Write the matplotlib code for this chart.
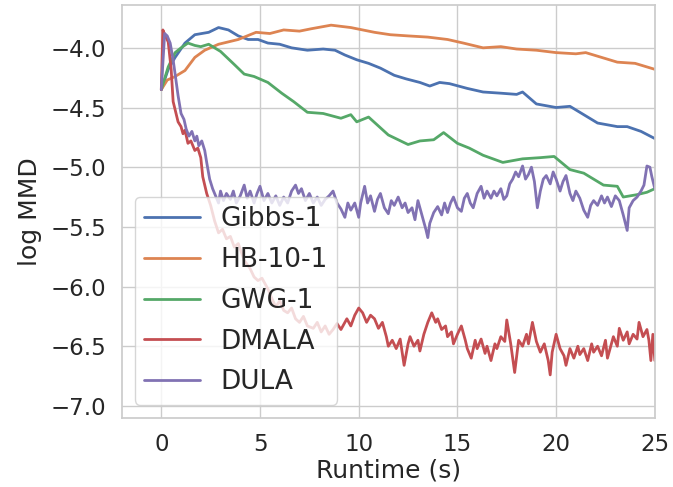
import numpy as np
import matplotlib
matplotlib.use("Agg")
import matplotlib.pyplot as plt
import seaborn as sns

sns.set_theme(style="whitegrid")

# Gibbs-1
t_gibbs = [0, 0.35, 0.7, 1.2, 1.7, 2.4, 2.9, 3.4, 3.9, 4.4, 4.9, 5.4, 6.0, 6.6, 7.4, 8.2,
           8.8, 9.3, 9.9, 10.5, 11.1, 11.8, 12.4, 13.1, 13.6, 14.1, 14.6, 15.5, 16.3, 17.2,
           18.0, 18.3, 19.0, 20.0, 20.7, 21.4, 22.1, 23.1, 23.6, 24.3, 25.0]
v_gibbs = [-4.35, -4.18, -4.08, -3.96, -3.89, -3.87, -3.83, -3.85, -3.90, -3.93, -3.93,
           -3.96, -3.97, -4.00, -4.02, -4.01, -4.02, -4.06, -4.10, -4.13, -4.17, -4.23,
           -4.26, -4.29, -4.32, -4.29, -4.30, -4.34, -4.37, -4.38, -4.39, -4.37, -4.47,
           -4.50, -4.49, -4.56, -4.63, -4.66, -4.66, -4.70, -4.76]

# HB-10-1
t_hb = [0, 0.3, 0.7, 1.2, 1.7, 2.2, 2.9, 3.9, 4.8, 5.5, 6.2, 7.0, 7.6, 8.6, 9.6, 10.8,
        11.6, 12.5, 13.5, 14.5, 15.3, 16.3, 17.2, 18.0, 19.0, 20.0, 21.0, 21.5, 22.3,
        23.1, 24.0, 25.0]
v_hb = [-4.35, -4.27, -4.24, -4.19, -4.08, -4.02, -3.97, -3.93, -3.87, -3.88, -3.85,
        -3.86, -3.84, -3.81, -3.83, -3.87, -3.89, -3.90, -3.91, -3.93, -3.96, -4.00,
        -3.99, -4.01, -4.02, -4.04, -4.05, -4.04, -4.08, -4.12, -4.13, -4.18]

# GWG-1
t_gwg = [0, 0.35, 0.7, 1.0, 1.35, 1.7, 2.0, 2.4, 3.0, 3.7, 4.2, 4.7, 5.4, 6.1, 6.7, 7.4,
         8.2, 9.1, 9.6, 9.9, 10.5, 11.1, 11.5, 12.5, 13.1, 13.8, 14.3, 15.0, 15.6, 16.3,
         17.3, 18.3, 19.2, 19.9, 20.7, 21.4, 22.4, 23.1, 23.4, 24.1, 24.6, 25.0]
v_gwg = [-4.35, -4.16, -4.04, -4.00, -3.96, -3.98, -3.99, -3.97, -4.03, -4.14, -4.22,
         -4.24, -4.29, -4.38, -4.45, -4.54, -4.55, -4.59, -4.56, -4.62, -4.58, -4.67,
         -4.73, -4.81, -4.78, -4.77, -4.71, -4.80, -4.84, -4.90, -4.96, -4.93, -4.92,
         -4.91, -5.02, -5.05, -5.15, -5.16, -5.25, -5.23, -5.21, -5.18]

# DMALA
t_dmala = [0, 0.08, 0.2, 0.35, 0.5, 0.6, 0.75, 0.85, 1.0, 1.1, 1.2, 1.35, 1.5, 1.7, 1.85,
           2.0, 2.1, 2.3, 2.5, 2.7, 2.9, 3.1, 3.3, 3.5, 3.7, 3.9, 4.2, 4.5, 4.7, 4.9, 5.1,
           5.4, 5.6, 5.8, 6.0, 6.2, 6.4, 6.6, 6.8, 7.0, 7.2, 7.4, 7.7, 7.9, 8.1, 8.3, 8.5,
           8.7, 8.9, 9.1, 9.4, 9.6, 9.8, 10.0, 10.2, 10.4, 10.6, 10.8, 11.0, 11.2, 11.4,
           11.5, 11.7, 11.9, 12.1, 12.3, 12.5, 12.6, 12.8, 13.0, 13.1, 13.3, 13.5, 13.7,
           13.9, 14.0, 14.2, 14.4, 14.5, 14.7, 14.8, 15.0, 15.2, 15.4, 15.5, 15.7, 15.9,
           16.0, 16.2, 16.4, 16.5, 16.7, 16.9, 17.0, 17.2, 17.4, 17.5, 17.7, 17.9, 18.1,
           18.3, 18.5, 18.6, 18.8, 19.0, 19.2, 19.4, 19.6, 19.7, 19.8, 20.0, 20.2, 20.4,
           20.5, 20.7, 20.9, 21.1, 21.2, 21.4, 21.6, 21.8, 21.9, 22.1, 22.3, 22.5, 22.6,
           22.8, 22.9, 23.1, 23.2, 23.4, 23.6, 23.7, 23.9, 24.1, 24.2, 24.4, 24.6, 24.7,
           24.8, 24.9, 25.0]
v_dmala = [-4.35, -3.85, -3.90, -3.95, -4.18, -4.45, -4.55, -4.62, -4.66, -4.72, -4.69,
           -4.80, -4.78, -4.86, -4.84, -4.92, -5.08, -5.22, -5.32, -5.45, -5.55, -5.52,
           -5.60, -5.58, -5.67, -5.64, -5.78, -5.85, -5.92, -5.95, -5.93, -6.02, -6.10,
           -6.17, -6.12, -6.20, -6.22, -6.18, -6.27, -6.30, -6.25, -6.33, -6.35, -6.30,
           -6.38, -6.33, -6.40, -6.36, -6.31, -6.36, -6.27, -6.33, -6.24, -6.18, -6.22,
           -6.30, -6.24, -6.27, -6.35, -6.30, -6.42, -6.50, -6.45, -6.52, -6.44, -6.66,
           -6.48, -6.42, -6.50, -6.45, -6.54, -6.40, -6.30, -6.22, -6.30, -6.27, -6.36,
           -6.33, -6.42, -6.38, -6.48, -6.40, -6.33, -6.45, -6.52, -6.60, -6.45, -6.52,
           -6.44, -6.56, -6.50, -6.62, -6.48, -6.52, -6.42, -6.46, -6.28, -6.48, -6.72,
           -6.45, -6.50, -6.40, -6.48, -6.30, -6.46, -6.55, -6.48, -6.62, -6.74, -6.55,
           -6.40, -6.52, -6.58, -6.66, -6.52, -6.60, -6.50, -6.57, -6.52, -6.62, -6.48,
           -6.55, -6.50, -6.58, -6.45, -6.60, -6.48, -6.42, -6.50, -6.35, -6.45, -6.38,
           -6.48, -6.40, -6.44, -6.30, -6.42, -6.36, -6.45, -6.62, -6.40, -6.62]

# DULA
t_dula = [0, 0.17, 0.3, 0.45, 0.6, 0.7, 0.85, 1.0, 1.15, 1.26, 1.4, 1.55, 1.7, 1.8, 1.9,
          2.05, 2.2, 2.3, 2.45, 2.6, 2.75, 2.9, 3.0, 3.15, 3.3, 3.5, 3.65, 3.8, 4.0, 4.2,
          4.35, 4.5, 4.7, 4.85, 5.0, 5.2, 5.4, 5.6, 5.8, 6.0, 6.2, 6.4, 6.6, 6.8, 6.95,
          7.1, 7.3, 7.5, 7.7, 7.9, 8.1, 8.3, 8.5, 8.7, 8.9, 9.1, 9.3, 9.45, 9.6, 9.8,
          10.0, 10.1, 10.3, 10.45, 10.6, 10.8, 10.95, 11.1, 11.3, 11.5, 11.65, 11.8, 12.0,
          12.2, 12.35, 12.5, 12.7, 12.85, 13.0, 13.2, 13.4, 13.5, 13.6, 13.8, 14.0, 14.2,
          14.35, 14.5, 14.65, 14.8, 15.0, 15.2, 15.35, 15.5, 15.65, 15.8, 16.0, 16.2,
          16.35, 16.5, 16.7, 16.85, 17.0, 17.2, 17.35, 17.5, 17.65, 17.8, 17.95, 18.1,
          18.3, 18.45, 18.6, 18.75, 18.9, 19.05, 19.2, 19.35, 19.5, 19.7, 19.85, 20.0,
          20.2, 20.35, 20.5, 20.7, 20.85, 21.0, 21.2, 21.4, 21.6, 21.75, 21.9, 22.1, 22.3,
          22.45, 22.6, 22.8, 23.0, 23.2, 23.4, 23.6, 23.7, 23.9, 24.1, 24.3, 24.45, 24.6,
          24.75, 24.85, 25.0]
v_dula = [-4.35, -3.88, -3.90, -3.96, -4.10, -4.22, -4.40, -4.55, -4.60, -4.68, -4.74,
          -4.70, -4.78, -4.74, -4.82, -4.78, -4.86, -4.96, -5.10, -5.18, -5.24, -5.30,
          -5.20, -5.28, -5.22, -5.27, -5.20, -5.30, -5.24, -5.15, -5.26, -5.20, -5.30,
          -5.22, -5.16, -5.28, -5.22, -5.30, -5.24, -5.32, -5.25, -5.30, -5.20, -5.15,
          -5.22, -5.18, -5.28, -5.22, -5.30, -5.25, -5.32, -5.27, -5.24, -5.20, -5.30,
          -5.35, -5.42, -5.30, -5.36, -5.30, -5.42, -5.30, -5.16, -5.30, -5.24, -5.37,
          -5.27, -5.22, -5.34, -5.39, -5.28, -5.32, -5.25, -5.34, -5.30, -5.38, -5.34,
          -5.44, -5.28, -5.40, -5.52, -5.59, -5.47, -5.38, -5.33, -5.40, -5.30, -5.38,
          -5.30, -5.25, -5.34, -5.37, -5.26, -5.22, -5.30, -5.34, -5.22, -5.16, -5.26,
          -5.20, -5.26, -5.20, -5.24, -5.18, -5.27, -5.24, -5.14, -5.10, -5.04, -5.08,
          -4.99, -5.10, -5.06, -5.00, -5.12, -5.34, -5.20, -5.10, -5.07, -5.14, -5.04,
          -5.10, -5.20, -5.12, -5.07, -5.22, -5.28, -5.20, -5.26, -5.36, -5.42, -5.32,
          -5.28, -5.32, -5.24, -5.30, -5.25, -5.33, -5.24, -5.28, -5.40, -5.53, -5.34,
          -5.28, -5.25, -5.20, -5.15, -4.99, -5.00, -5.08, -5.18]

series = [("Gibbs-1", t_gibbs, v_gibbs), ("HB-10-1", t_hb, v_hb), ("GWG-1", t_gwg, v_gwg),
          ("DMALA", t_dmala, v_dmala), ("DULA", t_dula, v_dula)]
colors = sns.color_palette("deep")

fig = plt.figure(figsize=(6.73, 4.87), dpi=100)
ax = fig.add_axes([0.181, 0.142, 0.792, 0.848])

for i, (name, t, v) in enumerate(series):
    ax.plot(t, v, color=colors[i], lw=2.0, label=name)

ax.set_xlim(-2, 25)
ax.set_ylim(-7.1, -3.64)
ax.set_xticks([0, 5, 10, 15, 20, 25])
ax.set_yticks([-7.0, -6.5, -6.0, -5.5, -5.0, -4.5, -4.0])
ax.tick_params(labelsize=16.5, pad=5)
ax.set_xlabel("Runtime (s)", fontsize=18, labelpad=2)
ax.set_ylabel("log MMD", fontsize=18, labelpad=6)

ax.legend(loc="lower left", fontsize=19, borderaxespad=0.5,
          handlelength=2.1, handletextpad=0.8, labelspacing=0.56, borderpad=0.35)

fig.savefig("out.png", dpi=100)
